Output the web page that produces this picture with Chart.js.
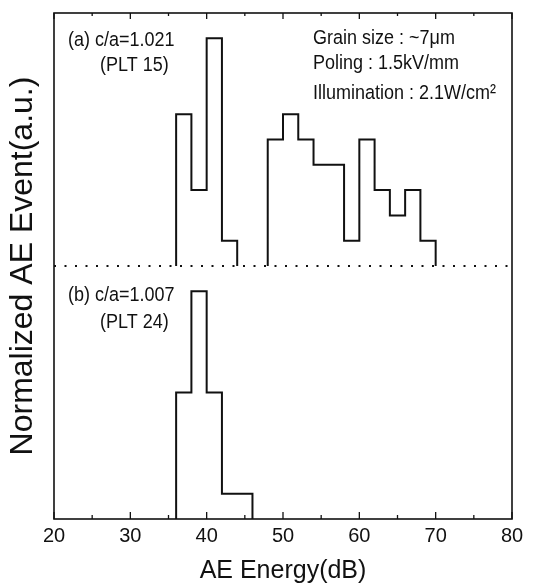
<!DOCTYPE html>
<html>
<head>
<meta charset="utf-8">
<script src="https://cdn.jsdelivr.net/npm/chart.js@4"></script>
<style>
  html, body { margin: 0; padding: 0; background: #fff; }
  #wrap { width: 533px; height: 586px; }
</style>
</head>
<body>
<div id="wrap"><canvas id="chart"></canvas></div>
<script>
// histogram bins (dB), 2 dB wide starting at 36
const binStart = 36;
const binWidth = 2;
// (a) PLT 15, counts per bin 36-38, 38-40, ... 68-70
const countsA = [6, 3, 9, 1, 0, 0, 5, 6, 5, 4, 4, 1, 5, 3, 2, 3, 1];
// (b) PLT 24, counts per bin 36-38 ... 44-46
const countsB = [5, 9, 5, 1, 1];
// panel (a) sits on top of panel (b)
const offsetA = 10;
const xMin = 20, xMax = 80, xStep = 10;
const yMin = 0, yMax = 20;

const FONT = '"Liberation Sans", Arial, Helvetica, sans-serif';
Chart.defaults.font.family = FONT;
Chart.defaults.color = '#111';

// outline of a histogram as stepped points, broken where counts drop to zero
function stepPoints(counts, offset) {
  const pts = [];
  counts.forEach((c, i) => {
    if (c === 0) return;
    const x0 = binStart + i * binWidth;
    const prev = i > 0 ? counts[i - 1] : 0;
    const next = i < counts.length - 1 ? counts[i + 1] : 0;
    if (prev === 0) pts.push({ x: x0, y: offset });
    pts.push({ x: x0, y: offset + c });
    if (next === 0) {
      pts.push({ x: x0 + binWidth, y: offset });
      pts.push({ x: x0 + binWidth, y: null });
    }
  });
  return pts;
}

function note(ctx, text, x, y, size) {
  ctx.save();
  ctx.translate(x, y);
  ctx.scale(1, 1.15);
  ctx.font = size + 'px ' + FONT;
  ctx.textAlign = 'left';
  ctx.textBaseline = 'middle';
  ctx.fillStyle = '#111';
  ctx.fillText(text, 0, 0);
  ctx.restore();
}

const frame = {
  id: 'frame',
  afterDraw(chart) {
    const { ctx, chartArea: a, scales } = chart;
    const x = scales.x;
    ctx.save();
    ctx.strokeStyle = '#111';
    ctx.lineWidth = 1.6;
    ctx.strokeRect(a.left, a.top, a.right - a.left, a.bottom - a.top);
    // inward ticks, major every 10, minor every 5
    ctx.lineWidth = 1.3;
    for (let v = xMin; v <= xMax; v += xStep / 2) {
      const px = x.getPixelForValue(v);
      const len = v % xStep === 0 ? 7 : 4;
      ctx.beginPath();
      ctx.moveTo(px, a.bottom); ctx.lineTo(px, a.bottom - len);
      ctx.moveTo(px, a.top); ctx.lineTo(px, a.top + len - 1);
      ctx.stroke();
    }
    ctx.restore();

    note(ctx, '(a) c/a=1.021', 68, 40, 18);
    note(ctx, '(PLT 15)', 100, 65, 18);
    note(ctx, 'Grain size : ~7\u03bcm', 313, 38, 18);
    note(ctx, 'Poling : 1.5kV/mm', 313, 63, 18);
    note(ctx, 'Illumination : 2.1W/cm\u00b2', 313, 93, 18);
    note(ctx, '(b) c/a=1.007', 68, 295, 18);
    note(ctx, '(PLT 24)', 100, 322, 18);
  }
};

new Chart(document.getElementById('chart'), {
  type: 'line',
  data: {
    datasets: [
      {
        data: stepPoints(countsA, offsetA),
        stepped: 'before',
        borderColor: '#111',
        borderWidth: 2,
        pointRadius: 0,
        spanGaps: false
      },
      {
        data: stepPoints(countsB, 0),
        stepped: 'before',
        borderColor: '#111',
        borderWidth: 2,
        pointRadius: 0
      },
      {
        // dotted separator between the two panels
        data: [{ x: xMin, y: offsetA }, { x: xMax, y: offsetA }],
        borderColor: '#111',
        borderWidth: 2,
        borderDash: [2, 8.5],
        pointRadius: 0
      }
    ]
  },
  options: {
    responsive: true,
    maintainAspectRatio: false,
    animation: false,
    layout: { padding: { left: 0, right: 21, top: 13, bottom: 0 } },
    plugins: { legend: { display: false }, tooltip: { enabled: false } },
    scales: {
      x: {
        type: 'linear',
        min: xMin,
        max: xMax,
        grid: { display: false, drawTicks: false },
        border: { display: false },
        ticks: { stepSize: xStep, padding: 7, maxRotation: 0, font: { size: 20, lineHeight: 1.0 }, color: '#111' },
        title: {
          display: true,
          text: 'AE Energy(dB)',
          font: { size: 25 },
          color: '#111',
          padding: { top: 3, bottom: 0 }
        }
      },
      y: {
        min: yMin,
        max: yMax,
        grid: { display: false, drawTicks: false },
        border: { display: false },
        ticks: { display: false },
        title: {
          display: true,
          text: 'Normalized AE Event(a.u.)',
          font: { size: 32 },
          color: '#111',
          padding: { top: 4, bottom: 11.6 }
        }
      }
    }
  },
  plugins: [frame]
});
</script>
</body>
</html>
